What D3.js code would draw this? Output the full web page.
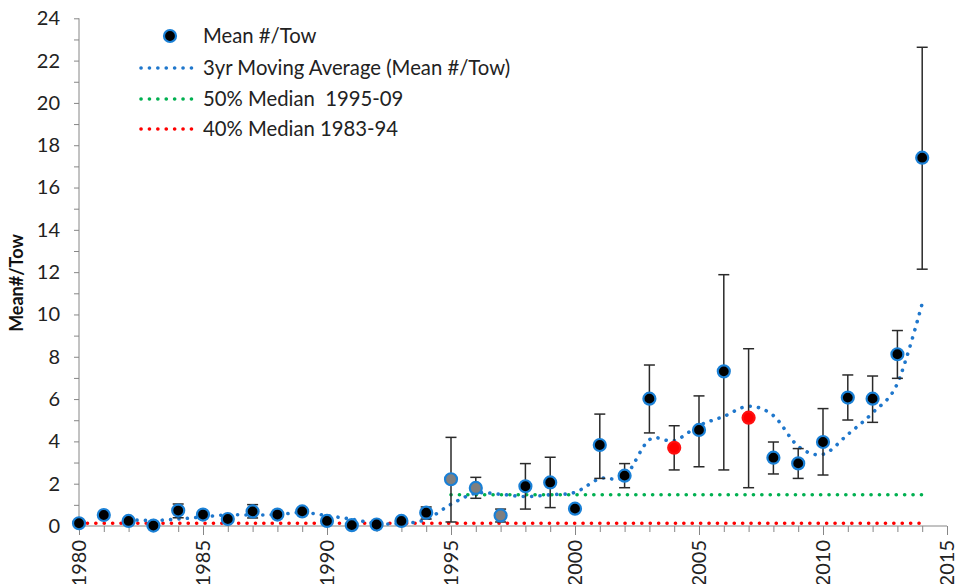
<!DOCTYPE html>
<html><head><meta charset="utf-8">
<script src="https://cdn.jsdelivr.net/npm/d3@7"></script>
<style>body{margin:0;background:#fff}svg{display:block}</style>
</head><body>
<svg id="c" width="956" height="584"></svg>
<script>
const years = d3.range(1980, 2015);
const meanTow = [0.13,0.52,0.24,0.02,0.73,0.54,0.33,0.69,0.54,0.69,0.24,0.04,0.07,0.24,0.63,
                 2.21,1.80,0.50,1.88,2.06,0.82,3.83,2.38,6.02,3.70,4.54,7.31,5.12,3.23,2.96,3.97,6.07,6.02,8.12,17.41];
const upperErr = [null,null,null,null,1.04,0.62,null,1.01,0.62,0.74,null,null,null,null,0.90,
                  4.19,2.30,0.80,2.95,3.25,0.90,5.29,2.95,7.61,4.74,6.15,11.88,8.38,3.97,3.66,5.55,7.14,7.09,9.24,22.63];
const lowerErr = [null,null,null,null,0.39,0.46,null,0.38,0.46,0.64,null,null,null,null,0.33,
                  0.19,1.31,0.19,0.80,0.87,0.75,2.25,1.81,4.40,2.65,2.80,2.65,1.81,2.46,2.25,2.41,5.01,4.90,6.98,12.14];
const pointType = ["b","b","b","b","b","b","b","b","b","b","b","b","b","b","b",
                   "g","g","g","b","b","b","b","b","b","r","b","b","r","b","b","b","b","b","b","b"];
const maYears = d3.range(1982, 2015);
const movingAvg = [0.30,0.26,0.33,0.43,0.53,0.52,0.54,0.64,0.49,0.32,0.12,0.12,0.31,
                   1.03,1.55,1.50,1.39,1.48,1.59,2.24,2.34,4.08,4.03,4.75,5.18,5.66,5.22,3.77,3.39,4.33,5.35,6.74,10.52];
const median50 = 1.48, median50Years = [1995, 2014];
const median40 = 0.13, median40Years = [1980, 2014];
const yTicks = d3.range(0, 25, 2);
const xTicks = [1980,1985,1990,1995,2000,2005,2010,2015];
const legendLabels = ["Mean #/Tow","3yr Moving Average (Mean #/Tow)","50% Median  1995-09","40% Median 1983-94"];

const svg = d3.select("#c");
const font = "Lato, 'Open Sans', sans-serif";
const x = d3.scaleLinear().domain([1980, 2015]).range([79, 947]);
const y = d3.scaleLinear().domain([0, 24]).range([526, 18.3]);
const axisCol = "#868686";

// Y axis
const yAx = svg.append("g").attr("transform", `translate(${x(1980)},0)`)
  .call(d3.axisLeft(y).tickValues(d3.range(0, 25, 1)).tickSize(5).tickPadding(14)
        .tickFormat(d => yTicks.includes(d) ? d : ""));
yAx.select(".domain").attr("stroke", axisCol).attr("d", `M0,${y(24)}V${y(0)}`);
yAx.selectAll(".tick line").attr("stroke", axisCol);
yAx.selectAll("text").attr("font-family", font).attr("font-size", 20).attr("fill", "#222");

// X axis
const xAx = svg.append("g").attr("transform", `translate(0,${y(0)})`)
  .call(d3.axisBottom(x).tickValues(d3.range(1980, 2016)).tickSize(6).tickFormat(""));
xAx.select(".domain").attr("stroke", axisCol).attr("d", `M${x(1980)},0H${x(2015)}`);
xAx.selectAll(".tick line").attr("stroke", axisCol).attr("y2", d => xTicks.includes(d) ? 9 : 6);
svg.append("g").selectAll("text").data(xTicks).join("text")
  .attr("transform", d => `translate(${x(d) + 7},${y(0) + 14}) rotate(-90)`)
  .attr("text-anchor", "end").attr("font-family", font).attr("font-size", 20).attr("fill", "#222")
  .text(d => d);

// Y title
svg.append("text").attr("transform", "translate(23,283) rotate(-90)")
  .attr("text-anchor", "middle").attr("font-family", font).attr("font-weight", "bold")
  .attr("font-size", 18).attr("fill", "#111").text("Mean#/Tow");

const dotted = (sel, col) => sel.attr("fill", "none").attr("stroke", col).attr("stroke-width", 3.6)
  .attr("stroke-linecap", "round").attr("stroke-dasharray", "0.1 8.3");

// Median lines
svg.append("line").attr("x1", x(median40Years[0])).attr("x2", x(median40Years[1]))
  .attr("y1", y(median40)).attr("y2", y(median40)).call(dotted, "#FF0000");
svg.append("line").attr("x1", x(median50Years[0])).attr("x2", x(median50Years[1]))
  .attr("y1", y(median50)).attr("y2", y(median50)).call(dotted, "#00B050");

// Moving average
const line = d3.line().x((d, i) => x(maYears[i])).y(d => y(d)).curve(d3.curveCatmullRom.alpha(0));
svg.append("path").attr("d", line(movingAvg)).call(dotted, "#1F77CC");

// Error bars
const eb = svg.append("g").attr("stroke", "#2a2a2a").attr("stroke-width", 1.5);
years.forEach((yr, i) => {
  if (upperErr[i] == null) return;
  const cx = x(yr);
  eb.append("line").attr("x1", cx).attr("x2", cx).attr("y1", y(upperErr[i])).attr("y2", y(lowerErr[i]));
  [upperErr[i], lowerErr[i]].forEach(v => eb.append("line").attr("x1", cx - 5.5).attr("x2", cx + 5.5)
    .attr("y1", y(v)).attr("y2", y(v)));
});

// Points
const fillOf = {b: "#000", g: "#7f7f7f", r: "#FF0000"};
const strokeOf = {b: "#1A80D6", g: "#1A80D6", r: "#FF1010"};
svg.append("g").selectAll("circle").data(meanTow).join("circle")
  .attr("cx", (d, i) => x(years[i])).attr("cy", d => y(d)).attr("r", 6)
  .attr("fill", (d, i) => fillOf[pointType[i]]).attr("stroke", (d, i) => strokeOf[pointType[i]])
  .attr("stroke-width", 2.2);

// Legend
const lg = svg.append("g");
const rowY = [36, 68, 99, 129];
lg.append("circle").attr("cx", 170).attr("cy", rowY[0]).attr("r", 6).attr("fill", "#000")
  .attr("stroke", "#1A80D6").attr("stroke-width", 2.2);
["#1F77CC", "#00B050", "#FF0000"].forEach((c, i) => {
  lg.append("line").attr("x1", 141).attr("x2", 193).attr("y1", rowY[i + 1]).attr("y2", rowY[i + 1]).call(dotted, c);
});
lg.selectAll("text").data(legendLabels).join("text")
  .attr("x", 203).attr("y", (d, i) => rowY[i]).attr("dy", "0.35em")
  .attr("font-family", font).attr("font-size", 20.3).attr("fill", "#222")
  .style("white-space", "pre").text(d => d);
</script>
</body></html>
